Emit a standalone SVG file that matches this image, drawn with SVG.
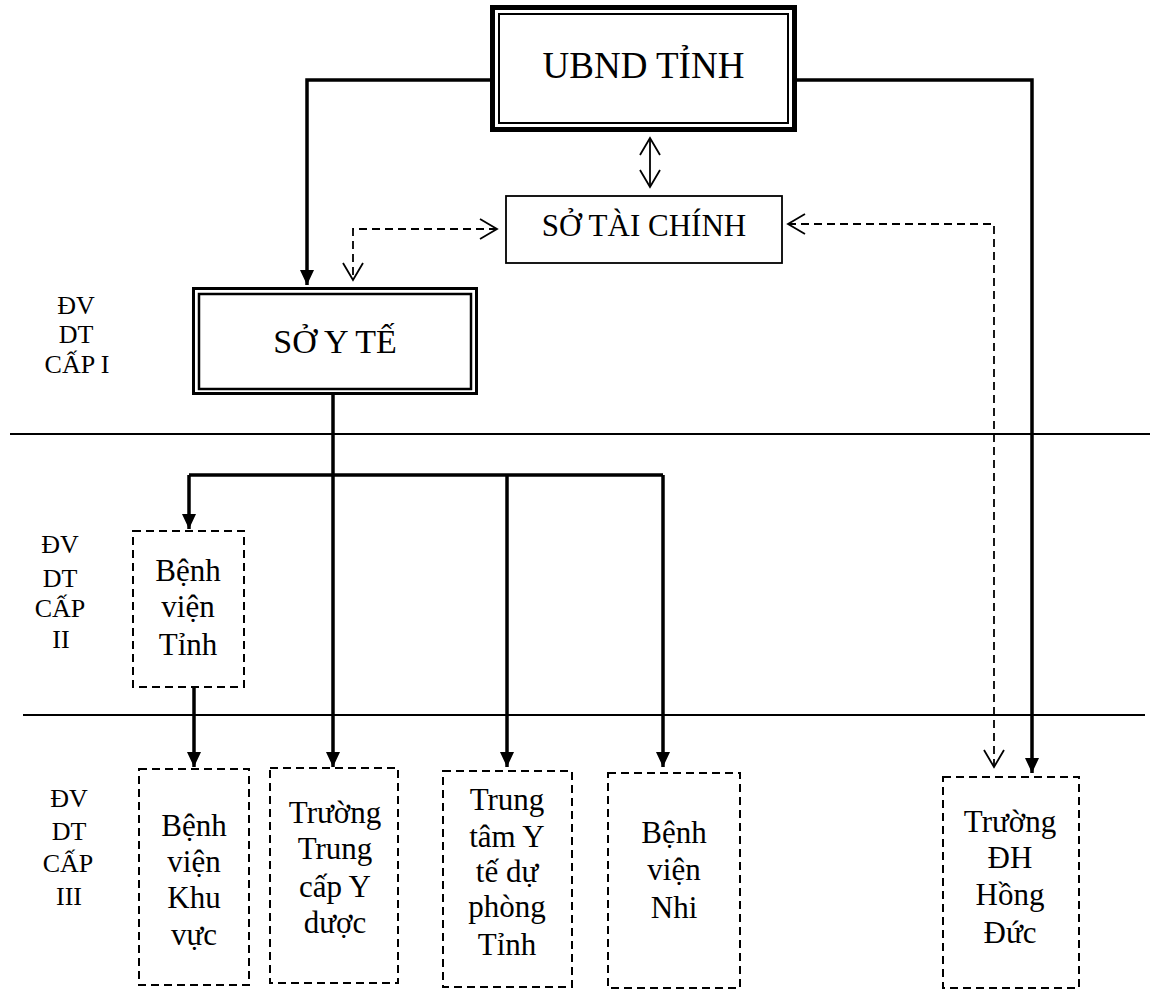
<svg xmlns="http://www.w3.org/2000/svg" width="1153" height="992" viewBox="0 0 1153 992">
<style>
text{font-family:"Liberation Serif","Times New Roman",serif;fill:#000;text-anchor:middle}
.lbl{font-size:26px}
.bx{font-size:31px}
.dbox{fill:#fff;stroke:#000;stroke-width:2;stroke-dasharray:8 5}
.sep{stroke:#000;stroke-width:1.8;fill:none}
.thick{stroke:#000;stroke-width:3.5;fill:none}
.thin{stroke:#000;stroke-width:1.8;fill:none}
.dash{stroke:#000;stroke-width:1.8;fill:none;stroke-dasharray:8 5}
</style>
<defs>
<marker id="fa" markerUnits="userSpaceOnUse" markerWidth="16" markerHeight="16" refX="15" refY="7" orient="auto" overflow="visible">
<path d="M0,0 L15,7 L0,14 z" fill="#000" stroke="none"/>
</marker>
<marker id="oa" markerUnits="userSpaceOnUse" markerWidth="20" markerHeight="22" refX="17" refY="10" orient="auto-start-reverse" overflow="visible">
<path d="M0,0 L17,10 L0,20" fill="none" stroke="#000" stroke-width="1.8" stroke-dasharray="none"/>
</marker>
</defs>

<g id="separators">
<line class="sep" x1="10" y1="434" x2="1150" y2="434"/>
<line class="sep" x1="23" y1="715" x2="1145" y2="715"/>
</g>

<g id="level-labels">
<text class="lbl" x="76" y="314">ĐV</text>
<text class="lbl" x="76" y="343">DT</text>
<text class="lbl" x="77" y="373">CẤP I</text>
<text class="lbl" x="60" y="553">ĐV</text>
<text class="lbl" x="60" y="587">DT</text>
<text class="lbl" x="60" y="617">CẤP</text>
<text class="lbl" x="61" y="648">II</text>
<text class="lbl" x="69" y="807">ĐV</text>
<text class="lbl" x="69" y="840">DT</text>
<text class="lbl" x="68" y="872">CẤP</text>
<text class="lbl" x="69" y="905">III</text>
</g>

<g id="connectors">
<path class="thick" d="M490,80 H307 V285" marker-end="url(#fa)"/>
<path class="thick" d="M797,80 H1032 V773" marker-end="url(#fa)"/>
<path class="thick" d="M333,395 V767" marker-end="url(#fa)"/>
<path class="thick" d="M189,475 H663"/>
<path class="thick" d="M189,475 V529" marker-end="url(#fa)"/>
<path class="thick" d="M507,475 V767" marker-end="url(#fa)"/>
<path class="thick" d="M663,475 V767" marker-end="url(#fa)"/>
<path class="thick" d="M194,687 V767" marker-end="url(#fa)"/>
<path class="thin" d="M650,138 V187" marker-start="url(#oa)" marker-end="url(#oa)"/>
<path class="dash" d="M497,229 H353 V280" marker-start="url(#oa)" marker-end="url(#oa)"/>
<path class="dash" d="M788,224 H994 V767" marker-start="url(#oa)" marker-end="url(#oa)"/>
</g>

<g id="ubnd">
<rect x="492.5" y="7.5" width="302" height="122" fill="#fff" stroke="#000" stroke-width="5"/>
<rect x="499" y="14" width="289" height="109" fill="none" stroke="#000" stroke-width="2"/>
<text x="643.5" y="78" style="font-size:37px">UBND TỈNH</text>
</g>

<g id="so-tai-chinh">
<rect x="506" y="196" width="276" height="67" fill="#fff" stroke="#000" stroke-width="1.8"/>
<text class="bx" x="644" y="236">SỞ TÀI CHÍNH</text>
</g>

<g id="so-y-te">
<rect x="193.5" y="288.5" width="283" height="105" fill="#fff" stroke="#000" stroke-width="3"/>
<rect x="199" y="294" width="272" height="95" fill="none" stroke="#000" stroke-width="2.5"/>
<text x="335" y="353" style="font-size:34px">SỞ Y TẾ</text>
</g>

<g id="bv-tinh">
<rect class="dbox" x="133" y="531" width="111" height="156"/>
<text class="bx" x="188" y="581">Bệnh</text>
<text class="bx" x="188" y="617">viện</text>
<text class="bx" x="188" y="655">Tỉnh</text>
</g>

<g id="bv-khu-vuc">
<rect class="dbox" x="139" y="769" width="110" height="216"/>
<text class="bx" x="194" y="836">Bệnh</text>
<text class="bx" x="194" y="872">viện</text>
<text class="bx" x="194" y="908">Khu</text>
<text class="bx" x="194" y="945">vực</text>
</g>

<g id="truong-trung-cap">
<rect class="dbox" x="270" y="768" width="128" height="215"/>
<text class="bx" x="335" y="823">Trường</text>
<text class="bx" x="335" y="859">Trung</text>
<text class="bx" x="335" y="897">cấp Y</text>
<text class="bx" x="335" y="933">dược</text>
</g>

<g id="trung-tam-ytdp">
<rect class="dbox" x="443" y="771" width="129" height="216"/>
<text class="bx" x="507" y="810">Trung</text>
<text class="bx" x="507" y="847">tâm Y</text>
<text class="bx" x="507" y="882">tế dự</text>
<text class="bx" x="507" y="917">phòng</text>
<text class="bx" x="507" y="955">Tỉnh</text>
</g>

<g id="bv-nhi">
<rect class="dbox" x="608" y="773" width="132" height="215"/>
<text class="bx" x="674" y="843">Bệnh</text>
<text class="bx" x="674" y="880">viện</text>
<text class="bx" x="674" y="918">Nhi</text>
</g>

<g id="dh-hong-duc">
<rect class="dbox" x="943" y="777" width="136" height="211"/>
<text class="bx" x="1010" y="832">Trường</text>
<text class="bx" x="1010" y="868">ĐH</text>
<text class="bx" x="1010" y="905">Hồng</text>
<text class="bx" x="1010" y="943">Đức</text>
</g>
</svg>
